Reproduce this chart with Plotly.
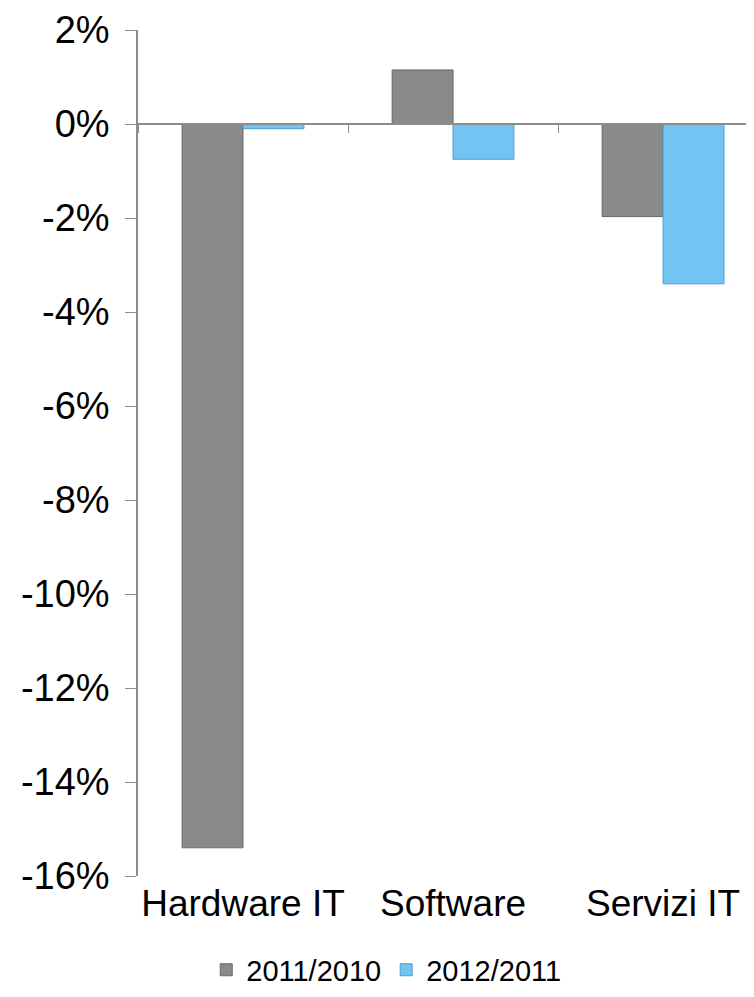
import plotly.graph_objects as go

categories = ["Hardware IT", "Software", "Servizi IT"]
series_names = ["2011/2010", "2012/2011"]
values_2011_2010 = [-15.4, 1.15, -1.97]
values_2012_2011 = [-0.1, -0.75, -3.4]
y_tickvals = [2, 0, -2, -4, -6, -8, -10, -12, -14, -16]
y_ticktext = [f"{v}%" for v in y_tickvals]

y_min, y_max = -16, 2
FONT = "Liberation Sans, Arial, sans-serif"

fig = go.Figure()
fig.add_trace(go.Bar(
    x=categories, y=values_2011_2010, name=series_names[0],
    marker=dict(color="#8a8a8a", line=dict(color="#686868", width=1)),
))
fig.add_trace(go.Bar(
    x=categories, y=values_2012_2011, name=series_names[1],
    marker=dict(color="#72c4f3", line=dict(color="#4d9fd0", width=1)),
))
# invisible trace to host the zero-line category axis with boundary ticks
fig.add_trace(go.Bar(x=categories, y=[0, 0, 0], xaxis="x2", showlegend=False,
                     hoverinfo="skip", marker=dict(color="rgba(0,0,0,0)")))

zero_pos = (0 - y_min) / (y_max - y_min)

fig.update_layout(
    width=754, height=997,
    margin=dict(l=130, r=8, t=22, b=129, autoexpand=False),
    paper_bgcolor="white", plot_bgcolor="white",
    barmode="group", bargap=0.42, bargroupgap=0,
    font=dict(family=FONT, color="black"),
    xaxis=dict(
        range=[-0.5, 2.433], showline=False, ticks="", showgrid=False,
        zeroline=False, tickfont=dict(size=37, family=FONT), ticklabelstandoff=2,
        automargin=False,
    ),
    xaxis2=dict(
        overlaying="x", anchor="free", position=zero_pos, side="bottom",
        range=[-0.5, 2.433], showline=True, linecolor="#8c8c8c", linewidth=1.5,
        ticks="outside", ticklen=8, tickcolor="#8c8c8c", tickson="boundaries",
        showticklabels=False, showgrid=False, zeroline=False,
        type="category", automargin=False,
    ),
    yaxis=dict(
        range=[y_min, y_max], tickvals=y_tickvals, ticktext=y_ticktext,
        showline=True, linecolor="#8c8c8c", linewidth=1.5,
        ticks="outside", ticklen=11, tickcolor="#8c8c8c",
        showgrid=False, zeroline=False, automargin=False,
        tickfont=dict(size=38, family=FONT), ticklabelstandoff=8,
    ),
    legend=dict(
        orientation="h", x=0.403, xanchor="center", y=-0.111, yanchor="middle",
        font=dict(size=29, family=FONT), itemwidth=30,
        tracegroupgap=0, traceorder="normal",
    ),
)

fig.write_html("out.html")
